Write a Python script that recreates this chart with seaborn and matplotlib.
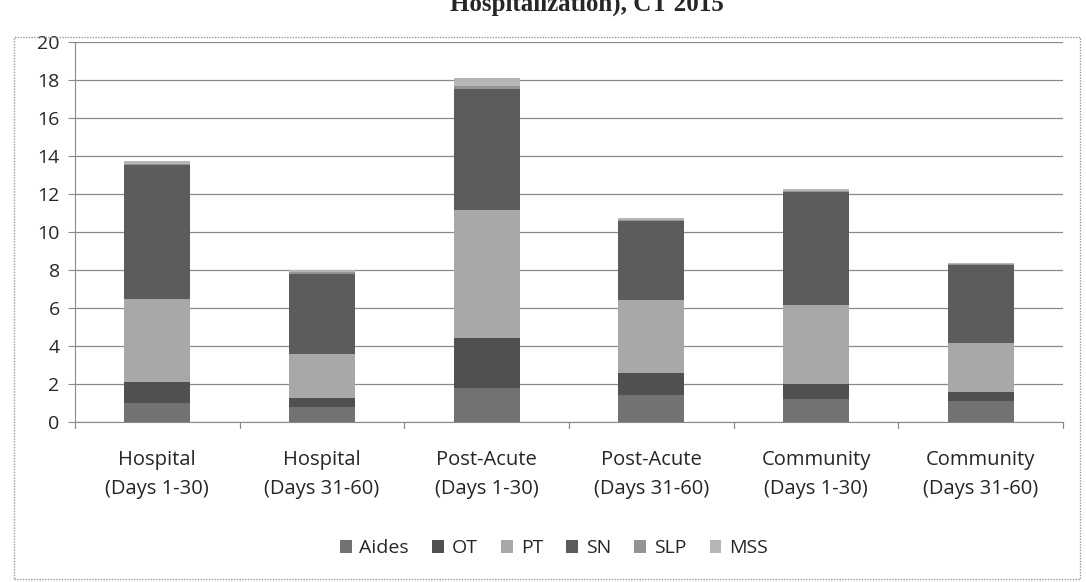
import numpy as np
import pandas as pd
import matplotlib
matplotlib.use("Agg")
import matplotlib.pyplot as plt
import seaborn as sns
from matplotlib.patches import Patch, Rectangle

categories = ["Hospital\n(Days 1-30)", "Hospital\n(Days 31-60)", "Post-Acute\n(Days 1-30)",
              "Post-Acute\n(Days 31-60)", "Community\n(Days 1-30)", "Community\n(Days 31-60)"]
services = ["Aides", "OT", "PT", "SN", "SLP", "MSS"]
aides = [1.0, 0.8, 1.8, 1.4, 1.2, 1.1]
ot = [1.1, 0.45, 2.6, 1.2, 0.8, 0.45]
pt = [4.35, 2.35, 6.75, 3.8, 4.15, 2.6]
sn = [7.05, 4.2, 6.35, 4.2, 5.95, 4.1]
slp = [0.1, 0.1, 0.2, 0.05, 0.05, 0.05]
mss = [0.15, 0.1, 0.4, 0.1, 0.1, 0.05]
colors = ["#727272", "#505050", "#a8a8a8", "#5c5c5c", "#949494", "#b6b6b6"]

df = pd.DataFrame({"cat": categories, "Aides": aides, "OT": ot, "PT": pt,
                   "SN": sn, "SLP": slp, "MSS": mss})
cum = df[services].cumsum(axis=1)

sns.set_style("white")
plt.rcParams["font.family"] = ["Open Sans", "DejaVu Sans"]

fig = plt.figure(figsize=(10.86, 5.82), dpi=100)
ax = fig.add_axes([0.069, 0.275, 0.91, 0.653])

# draw cumulative totals from top layer down so lower layers sit on top
for s, c in reversed(list(zip(services, colors))):
    sns.barplot(x=df["cat"], y=cum[s], color=c, width=0.4, ax=ax,
                saturation=1, edgecolor="none", linewidth=0, zorder=3)

ax.set_ylim(0, 20)
ax.set_xlim(-0.5, 5.5)
ax.set_yticks(range(0, 21, 2))
ax.yaxis.grid(True, color="#8a8a8a", linewidth=0.9, zorder=0)
ax.set_axisbelow(True)
ax.set_xlabel("")
ax.set_ylabel("")
for side in ["top", "right"]:
    ax.spines[side].set_visible(False)
ax.spines["left"].set_color("#8a8a8a")
ax.spines["bottom"].set_color("#8a8a8a")
ax.tick_params(axis="y", labelsize=14, length=5, color="#8a8a8a", left=True, pad=6)
ax.tick_params(axis="x", labelsize=14.5, length=0, pad=20)
ax.set_xticks(range(6))
ax.set_xticklabels(categories, linespacing=1.6)
for b in np.arange(-0.5, 6, 1):
    ax.plot([b, b], [0, -0.3], color="#8a8a8a", lw=0.9, clip_on=False)

handles = [Patch(facecolor=c, edgecolor="none", label=s) for s, c in zip(services, colors)]
fig.legend(handles=handles, loc="center", bbox_to_anchor=(0.51, 0.058), ncol=6,
           frameon=False, fontsize=14, handlelength=0.6, handleheight=0.6,
           handletextpad=0.4, columnspacing=1.2)

fig.patches.append(Rectangle((14 / 1086, 0.005), 1066 / 1086, 542 / 582,
                             transform=fig.transFigure, fill=False,
                             edgecolor="#9a9a9a", linewidth=1.0, linestyle=(0, (1, 1))))
fig.text(0.54, 0.992, "Hospitalization), CT 2015", ha="center", va="center",
         fontsize=18, fontweight="bold", family="Liberation Serif")

fig.savefig("out.png", dpi=100)
